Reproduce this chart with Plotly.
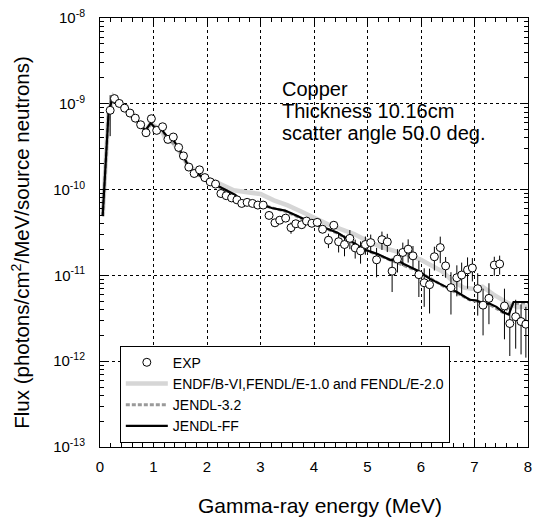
import plotly.graph_objects as go

# ---------------- data ----------------
exp_e = [0.19, 0.27, 0.36, 0.46, 0.56, 0.66, 0.76, 0.86, 0.96, 1.06,
         1.17, 1.27, 1.37, 1.47, 1.56, 1.66, 1.76, 1.86, 1.96, 2.06,
         2.16, 2.26, 2.36, 2.46, 2.56, 2.65, 2.75, 2.85, 2.95, 3.05,
         3.16, 3.27, 3.36, 3.47, 3.57, 3.66, 3.77, 3.86, 3.96, 4.06,
         4.16, 4.27, 4.37, 4.46, 4.57, 4.67, 4.77, 4.87, 4.96, 5.06,
         5.17, 5.27, 5.37, 5.46, 5.56, 5.66, 5.76, 5.85, 5.96, 6.06,
         6.16, 6.25, 6.36, 6.46, 6.56, 6.67, 6.76, 6.87, 6.96, 7.06,
         7.16, 7.27, 7.37, 7.47, 7.56, 7.66, 7.77, 7.87, 7.96]
exp_flux = [8.4e-10, 1.15e-9, 1.01e-9, 8.9e-10, 7.8e-10, 6.8e-10, 5.7e-10, 4.6e-10, 6.7e-10, 4.9e-10,
            5.4e-10, 3.85e-10, 4.1e-10, 3.1e-10, 2.47e-10, 1.83e-10, 1.54e-10, 1.70e-10, 1.38e-10, 1.23e-10,
            1.16e-10, 9.0e-11, 8.5e-11, 8.0e-11, 7.6e-11, 6.9e-11, 7.1e-11, 6.9e-11, 6.6e-11, 6.6e-11,
            5.0e-11, 4.1e-11, 4.4e-11, 4.65e-11, 3.6e-11, 4.0e-11, 3.9e-11, 4.3e-11, 4.05e-11, 4.15e-11,
            3.45e-11, 2.57e-11, 3.84e-11, 2.47e-11, 2.29e-11, 2.70e-11, 2.09e-11, 1.93e-11, 2.29e-11, 2.41e-11,
            1.52e-11, 2.61e-11, 2.46e-11, 1.12e-11, 1.55e-11, 1.85e-11, 2.02e-11, 1.69e-11, 1.02e-11, 8.2e-12,
            7.8e-12, 1.65e-11, 2.11e-11, 1.29e-11, 7.2e-12, 9.4e-12, 1.01e-11, 1.16e-11, 1.22e-11, 7.0e-12,
            4.5e-12, 5.4e-12, 1.32e-11, 1.36e-11, 4.4e-12, 2.75e-12, 3.3e-12, 2.9e-12, 2.7e-12]
exp_err = [4.2e-10, 3.5e-11, 3.0e-11, 2.7e-11, 2.3e-11, 2.0e-11, 1.7e-11, 1.4e-11, 2.0e-11, 1.5e-11,
           1.6e-11, 1.2e-11, 1.2e-11, 9.4e-12, 7.4e-12, 5.5e-12, 4.6e-12, 5.1e-12, 4.1e-12, 3.7e-12,
           3.5e-12, 2.7e-12, 2.5e-12, 2.4e-12, 2.3e-12, 2.1e-12, 2.1e-12, 2.1e-12, 2.0e-12, 2.0e-12,
           3.0e-12, 3.3e-12, 3.5e-12, 3.7e-12, 5.4e-12, 4.0e-12, 3.9e-12, 4.3e-12, 4.0e-12, 4.2e-12,
           3.5e-12, 4.9e-12, 3.8e-12, 6.2e-12, 6.2e-12, 6.8e-12, 5.2e-12, 5.6e-12, 5.5e-12, 5.8e-12,
           5.7e-12, 6.3e-12, 5.9e-12, 4.8e-12, 4.7e-12, 5.6e-12, 6.1e-12, 5.1e-12, 4.6e-12, 3.9e-12,
           4.2e-12, 5.1e-12, 7.2e-12, 3.5e-12, 3.7e-12, 3.7e-12, 4.0e-12, 4.6e-12, 3.7e-12, 3.6e-12,
           2.5e-12, 2.7e-12, 3.3e-12, 3.4e-12, 2.6e-12, 1.6e-12, 1.9e-12, 1.7e-12, 1.6e-12]

ff_e = [0.05, 0.16, 0.25, 0.35, 0.45, 0.55, 0.65, 0.75, 0.85, 0.95,
        1.05, 1.15, 1.25, 1.35, 1.45, 1.55, 1.65, 1.75, 1.85, 1.95,
        2.16, 2.35, 2.53, 2.65, 2.84, 3.02, 3.21, 3.46, 3.70, 3.95,
        4.20, 4.44, 4.69, 4.94, 5.19, 5.43, 5.56, 5.68, 5.93, 6.17,
        6.42, 6.67, 6.91, 7.04, 7.16, 7.28, 7.41, 7.53, 7.64, 7.73, 8.0]
ff_flux = [4.9e-11, 8.0e-10, 1.25e-9, 1.05e-9, 9.0e-10, 7.9e-10, 6.8e-10, 5.8e-10, 4.9e-10, 6.0e-10,
           5.0e-10, 5.0e-10, 4.2e-10, 4.0e-10, 3.2e-10, 2.5e-10, 1.9e-10, 1.6e-10, 1.5e-10, 1.3e-10,
           1.14e-10, 1.0e-10, 8.7e-11, 7.3e-11, 7.0e-11, 6.7e-11, 6.1e-11, 5.7e-11, 4.9e-11, 4.1e-11,
           3.6e-11, 3.15e-11, 2.5e-11, 2.0e-11, 1.77e-11, 1.51e-11, 1.51e-11, 1.36e-11, 1.14e-11, 9.1e-12,
           7.6e-12, 6.4e-12, 5.2e-12, 5.1e-12, 4.7e-12, 4.7e-12, 4.3e-12, 3.75e-12, 3.5e-12, 4.9e-12, 4.9e-12]

j32_e = [0.05, 0.16, 0.25, 0.35, 0.55, 0.75, 0.85, 0.95, 1.15, 1.25,
         1.45, 1.65, 1.95, 2.35, 2.65, 3.02, 3.46, 3.95, 4.44, 4.94,
         5.43, 5.93, 6.42, 6.91, 7.28, 7.53, 7.73, 8.0]
j32_flux = [4.9e-11, 7.8e-10, 1.22e-9, 1.04e-9, 7.8e-10, 5.7e-10, 4.8e-10, 5.8e-10, 4.9e-10, 4.1e-10,
            3.1e-10, 1.85e-10, 1.3e-10, 9.8e-11, 7.2e-11, 6.6e-11, 5.6e-11, 4.1e-11, 3.1e-11, 2.0e-11,
            1.5e-11, 1.13e-11, 7.5e-12, 5.2e-12, 4.6e-12, 3.7e-12, 4.7e-12, 4.8e-12]

endf_e = [0.05, 0.16, 0.25, 0.35, 0.55, 0.75, 0.85, 0.95, 1.15, 1.25,
          1.35, 1.45, 1.65, 1.85, 1.95, 2.2, 2.5, 2.75, 3.0, 3.25,
          3.5, 3.75, 4.0, 4.25, 4.5, 4.75, 5.0, 5.25, 5.5, 5.75,
          6.0, 6.25, 6.4, 6.6, 6.8, 7.0, 7.15, 7.35, 7.6, 7.8, 8.0]
endf_flux = [4.9e-11, 8.0e-10, 1.22e-9, 1.05e-9, 7.9e-10, 5.8e-10, 4.9e-10, 5.9e-10, 4.9e-10, 3.6e-10,
             3.6e-10, 3.0e-10, 1.9e-10, 1.55e-10, 1.38e-10, 1.2e-10, 9.8e-11, 9.3e-11, 8.9e-11, 7.5e-11,
             6.6e-11, 5.6e-11, 4.65e-11, 3.96e-11, 3.47e-11, 3.04e-11, 2.52e-11, 2.15e-11, 1.93e-11, 1.74e-11,
             1.52e-11, 1.26e-11, 1.11e-11, 8.5e-12, 7.2e-12, 6.95e-12, 7.4e-12, 6.0e-12, 4.85e-12, 4.25e-12, 4.35e-12]

y_major = [1e-13, 1e-12, 1e-11, 1e-10, 1e-9, 1e-8]
y_major_text = ["10<sup>-13</sup>", "10<sup>-12</sup>", "10<sup>-11</sup>",
                "10<sup>-10</sup>", "10<sup>-9</sup>", "10<sup>-8</sup>"]
y_minor = [m * d for d in [1e-13, 1e-12, 1e-11, 1e-10, 1e-9] for m in range(2, 10)]
x_ticks = [0, 1, 2, 3, 4, 5, 6, 7, 8]

info_lines = ["Copper", "Thickness 10.16cm", "scatter angle 50.0 deg."]

# ---------------- figure ----------------
FONT = "Liberation Sans, Arial, sans-serif"
fig = go.Figure()

fig.add_trace(go.Scatter(
    x=endf_e, y=endf_flux, mode="lines", name="ENDF/B-VI,FENDL/E-1.0 and FENDL/E-2.0",
    line=dict(color="#d6d6d6", width=4.5), legendrank=2,
))
fig.add_trace(go.Scatter(
    x=j32_e, y=j32_flux, mode="lines", name="JENDL-3.2",
    line=dict(color="#9a9a9a", width=3, dash="4px,2px"), legendrank=3,
))
fig.add_trace(go.Scatter(
    x=ff_e, y=ff_flux, mode="lines", name="JENDL-FF",
    line=dict(color="black", width=2.2), legendrank=4,
))
fig.add_trace(go.Scatter(
    x=exp_e, y=exp_flux, mode="markers", name="EXP",
    marker=dict(symbol="circle", size=8, color="white", line=dict(color="black", width=1)),
    error_y=dict(type="data", array=exp_err, color="black", thickness=1, width=0),
    legendrank=1,
))

axis_common = dict(
    showline=True, linecolor="black", linewidth=1, mirror="allticks",
    ticks="inside", ticklen=8, tickcolor="black", tickwidth=1,
    showgrid=True, gridcolor="black", gridwidth=1, griddash="3px,3px",
    zeroline=False, tickfont=dict(family=FONT, size=15, color="black"),
)

fig.update_xaxes(
    range=[0, 8], tickvals=x_ticks, ticklabelstandoff=6,
    minor=dict(ticks="inside", ticklen=4, dtick=0.2, tick0=0, tickcolor="black", showgrid=False),
    **axis_common,
)
fig.update_yaxes(
    type="log", range=[-13, -8], tickvals=y_major, ticktext=y_major_text, ticklabelstandoff=11,
    minor=dict(ticks="inside", ticklen=4, tickvals=y_minor, tickcolor="black", showgrid=False),
    **axis_common,
)

annotations = [
    dict(text="Gamma-ray energy (MeV)", xref="paper", yref="paper", x=0.513, y=-0.137,
         xanchor="center", yanchor="middle", showarrow=False,
         font=dict(family=FONT, size=21, color="black")),
    dict(text="Flux (photons/cm<sup>2</sup>/MeV/source neutrons)", xref="paper", yref="paper",
         x=-0.185, y=0.478, xanchor="center", yanchor="middle", textangle=-90, showarrow=False,
         font=dict(family=FONT, size=20.5, color="black")),
]
for line, py in zip(info_lines, [86, 108.5, 131]):
    annotations.append(dict(text=line, xref="paper", yref="paper",
                            x=(282 - 100) / 432, y=(447 - py) / 432,
                            xanchor="left", yanchor="middle", showarrow=False,
                            font=dict(family=FONT, size=20, color="black")))

fig.update_layout(
    width=539, height=519,
    margin=dict(l=100, r=7, t=15, b=72, pad=0),
    paper_bgcolor="white", plot_bgcolor="white",
    showlegend=True,
    legend=dict(
        x=(120 - 100) / 432, y=(447 - 345) / 432, xanchor="left", yanchor="top",
        bgcolor="white", bordercolor="black", borderwidth=1,
        font=dict(family=FONT, size=14, color="black"),
        traceorder="normal", tracegroupgap=0, itemwidth=42,
    ),
    annotations=annotations,
)

fig.write_html("out.html")
